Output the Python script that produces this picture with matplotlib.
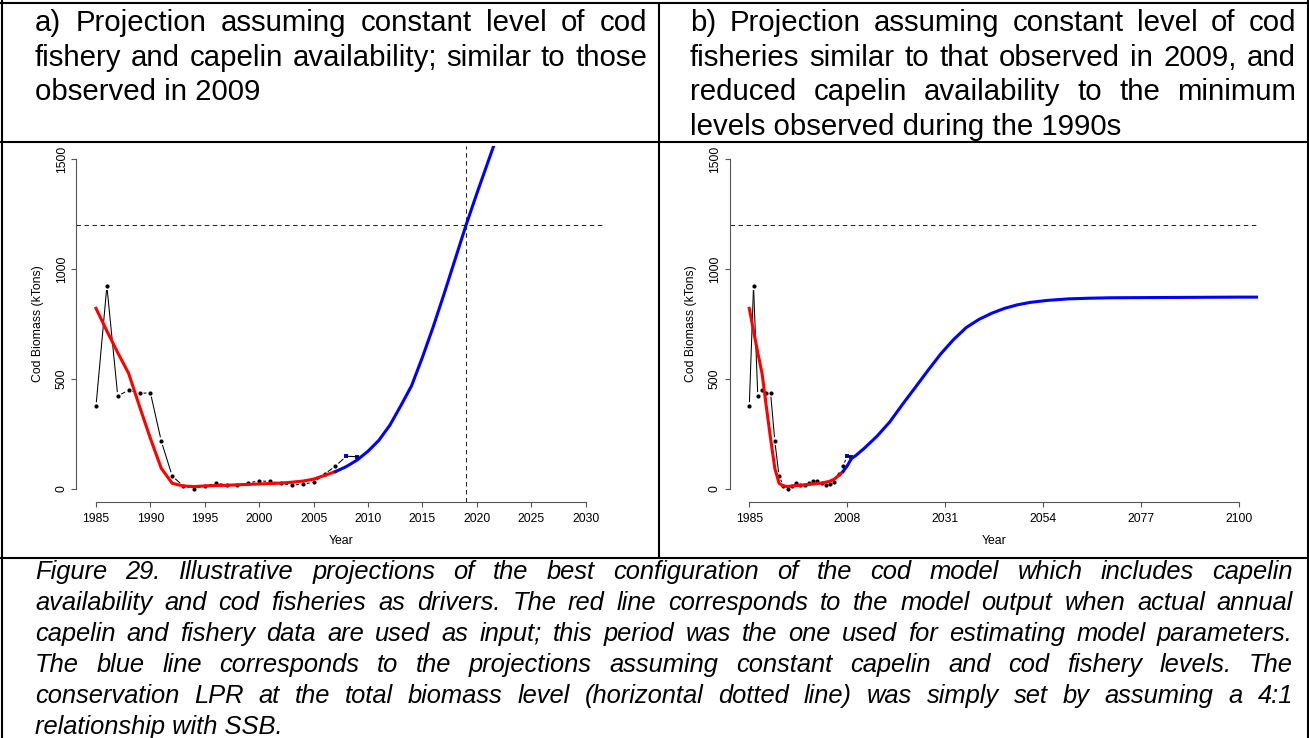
import matplotlib
matplotlib.use("Agg")
import matplotlib.pyplot as plt
import numpy as np

W, H, DPI = 1309, 738, 100

# observed cod biomass (kTons)
obs_years = list(range(1985, 2010))
obs_biomass = [377, 923, 423, 450, 435, 438, 218, 59, 15, 2, 14, 26, 20, 17,
               29, 36, 35, 26, 17, 23, 30, 68, 104, 149, 147]

# model output with actual capelin and fishery inputs
fit_years = list(range(1985, 2008))
fit_biomass = [822, 719, 620, 526, 376, 230, 94, 26, 14, 11, 14, 16, 17, 19,
               21, 23, 25, 27, 31, 36, 45, 62, 79]

# a) constant 2009 fishery and capelin
proj_a_years = list(range(2007, 2023))
proj_a_biomass = [79, 102, 132, 172, 222, 290, 378, 470, 600, 740, 890, 1045,
                  1200, 1345, 1485, 1625]

# b) 2009 fishery, capelin at 1990s minimum
proj_b_years = [2007, 2008, 2009, 2010, 2012, 2015, 2018, 2021, 2024, 2027,
                2030, 2033, 2036, 2039, 2042, 2045, 2048, 2051, 2055, 2060,
                2065, 2070, 2080, 2090, 2100, 2105]
proj_b_biomass = [79, 105, 138, 152, 185, 240, 305, 385, 462, 540, 615, 680,
                  735, 772, 800, 822, 838, 849, 858, 865, 868, 870, 871, 872,
                  873, 873]

lpr_level = 1200
recovery_year = 2019

y_ticks = [0, 500, 1000, 1500]
x_ticks_a = list(range(1985, 2031, 5))
x_ticks_b = list(range(1985, 2101, 23))

head_a = ["a) Projection assuming constant level of cod",
          "fishery and capelin availability; similar to those",
          "observed in 2009"]
head_b = ["b) Projection assuming constant level of cod",
          "fisheries similar to that observed in 2009, and",
          "reduced capelin availability to the minimum",
          "levels observed during the 1990s"]
caption = ["Figure 29. Illustrative projections of the best configuration of the cod model which includes capelin",
           "availability and cod fisheries as drivers. The red line corresponds to the model output when actual annual",
           "capelin and fishery data are used as input; this period was the one used for estimating model parameters.",
           "The blue line corresponds to the projections assuming constant capelin and cod fishery levels. The",
           "conservation LPR at the total biomass level (horizontal dotted line) was simply set by assuming a 4:1",
           "relationship with SSB."]

plt.rcParams["font.family"] = ["Liberation Sans", "DejaVu Sans"]

fig = plt.figure(figsize=(W / DPI, H / DPI), dpi=DPI)
# full-page layer in pixel units (y down) for the table and the text
frame = fig.add_axes([0, 0, 1, 1])
frame.set_xlim(0, W)
frame.set_ylim(H, 0)
frame.axis("off")
renderer = fig.canvas.get_renderer()

# table rules
rule = dict(color="black", lw=1.5, solid_capstyle="butt")
frame.plot([0, W], [2.5, 2.5], **rule)
frame.plot([0, W], [141.5, 141.5], **rule)
frame.plot([0, W], [557.5, 557.5], **rule)
frame.plot([1.5, 1.5], [0, H], **rule)
frame.plot([1307.5, 1307.5], [0, H], **rule)
frame.plot([658.5, 658.5], [2, 558], **rule)


def fit_size(line, width, **kw):
    # font size at which a line set with plain spaces is `width` px wide
    t = frame.text(0, 0, line, fontsize=10, **kw)
    w = t.get_window_extent(renderer).width
    t.remove()
    return 10 * width / w


def justified(lines, x0, x1, y0, step, **kw):
    for i, line in enumerate(lines):
        y = y0 + i * step
        if i == len(lines) - 1:
            frame.text(x0, y, line, ha="left", va="baseline", **kw)
            continue
        words = line.split()
        arts = [frame.text(0, y, w, ha="left", va="baseline", **kw) for w in words]
        widths = [a.get_window_extent(renderer).width for a in arts]
        space = (x1 - x0 - sum(widths)) / (len(words) - 1)
        x = x0
        for a, w in zip(arts, widths):
            a.set_x(x)
            x += w + space


head_size = fit_size(head_a[1], 604)
cap_size = fit_size(caption[2], 1195, style="italic")
justified(head_a, 35, 647, 31, 34.7, fontsize=head_size)
justified(head_b, 690, 1296, 31, 34.7, fontsize=head_size)
justified(caption, 35, 1293, 579, 31, fontsize=cap_size, style="italic")


def px_axes(x0, x1, y0, y1):
    ax = fig.add_axes([x0 / W, 1 - y1 / H, (x1 - x0) / W, (y1 - y0) / H])
    ax.patch.set_alpha(0)
    return ax


def style_axes(ax, xticks):
    for side in ("top", "right"):
        ax.spines[side].set_visible(False)
    ax.spines["left"].set_bounds(y_ticks[0], y_ticks[-1])
    ax.spines["bottom"].set_bounds(xticks[0], xticks[-1])
    for side in ("left", "bottom"):
        ax.spines[side].set_color("#555555")
        ax.spines[side].set_linewidth(0.8)
    ax.set_xticks(xticks)
    ax.set_yticks(y_ticks)
    ax.tick_params(direction="out", length=3.6, width=0.8, color="#555555",
                   labelsize=8.85, labelcolor="black")
    ax.tick_params(axis="x", pad=4.3)
    ax.tick_params(axis="y", pad=2.7)
    for lab in ax.get_yticklabels():
        lab.set_rotation(90)
        lab.set_va("center")


def gapped_line(ax, xs, ys, gap=4.5, **kw):
    # R style type="b": segments stop short of each point
    pts = ax.transData.transform(np.column_stack([xs, ys]))
    inv = ax.transData.inverted()
    for p0, p1 in zip(pts[:-1], pts[1:]):
        d = p1 - p0
        length = np.hypot(*d)
        if length <= 2 * gap:
            continue
        u = d / length
        seg = inv.transform([p0 + u * gap, p1 - u * gap])
        ax.plot(seg[:, 0], seg[:, 1], color="black", lw=0.75, zorder=2, **kw)


def draw_panel(ax, xticks, proj_years, proj_vals, xlim, vline=None):
    ax.set_xlim(*xlim)
    ax.set_ylim(-60, 1560)
    style_axes(ax, xticks)
    gapped_line(ax, obs_years, obs_biomass)
    ax.plot(obs_years[:-2], obs_biomass[:-2], "o", color="black", ms=3.0,
            mew=0, zorder=2)
    ax.plot(fit_years, fit_biomass, color="#ff0000", lw=2.2, zorder=3)
    ax.plot(proj_years, proj_vals, color="#0000ff", lw=2.2, zorder=3)
    ax.plot(obs_years[-2:], obs_biomass[-2:], "s", color="#0000ff", ms=3.5,
            mew=0, zorder=4)
    ax.plot(obs_years[-2:], obs_biomass[-2:], color="black", lw=0.75, zorder=5)
    dash = dict(color="#222222", lw=0.75, linestyle=(0, (4.3, 3.4)), zorder=1)
    ax.axhline(lpr_level, **dash)
    if vline is not None:
        ax.axvline(vline, **dash)


ax_a = px_axes(76.4, 605.3, 146.1, 502.2)
draw_panel(ax_a, x_ticks_a, proj_a_years, proj_a_biomass, (1983.2, 2031.8),
           vline=recovery_year)
ax_b = px_axes(729.7, 1258.3, 146.1, 502.2)
draw_panel(ax_b, x_ticks_b, proj_b_years, proj_b_biomass, (1980.4, 2104.6))

lab = dict(fontsize=8.85, ha="center", va="center")
for cx, ly in ((340.9, 38), (994.0, 691)):
    frame.text(cx, 541, "Year", **lab)
    frame.text(ly, 324, "Cod Biomass (kTons)", rotation=90, **lab)

fig.savefig("out.png", dpi=DPI)
